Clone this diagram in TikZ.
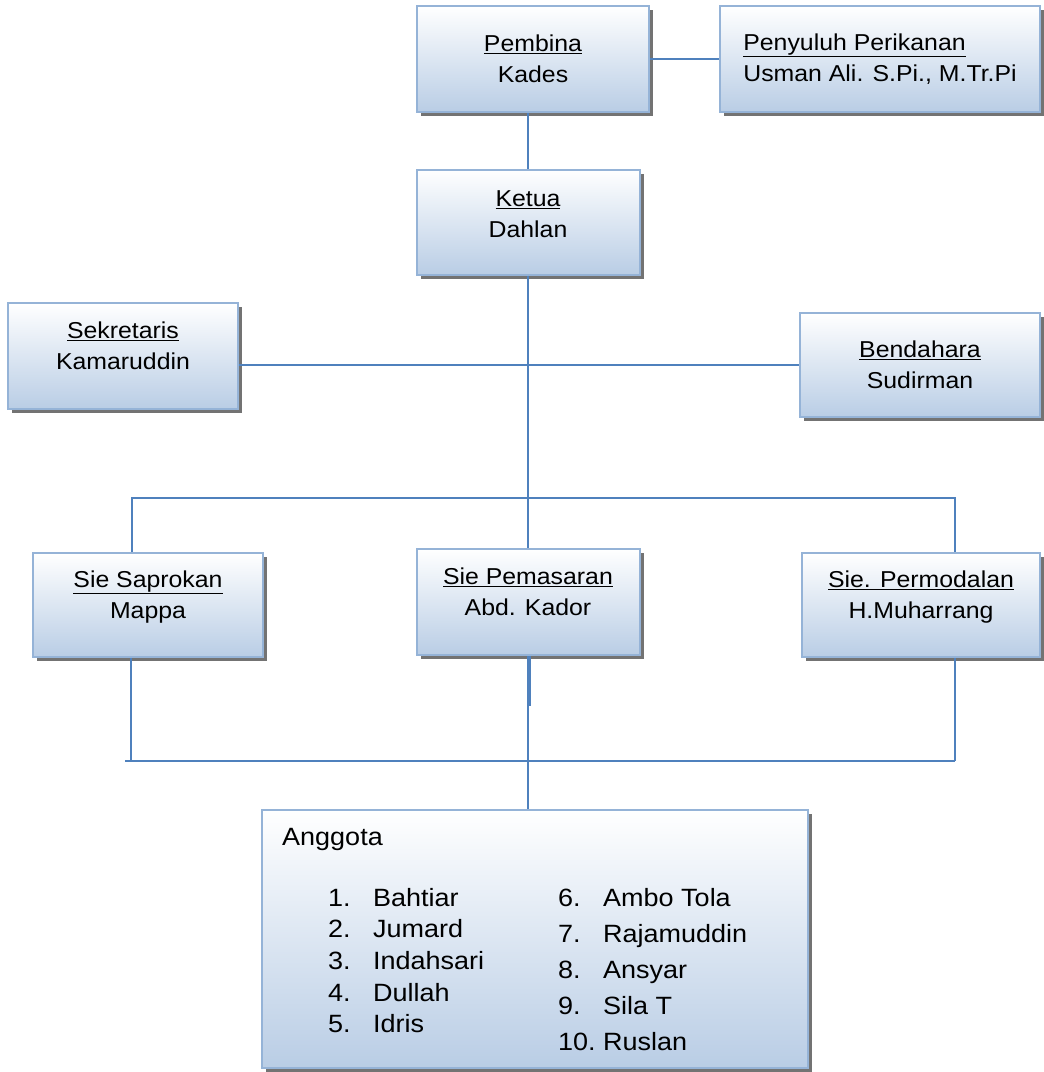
\documentclass[tikz,border=0pt]{standalone}
\usepackage{fontspec}
\setmainfont{Liberation Sans}[FakeStretch=1.08]
\usetikzlibrary{shadows}
\definecolor{boxblue}{RGB}{185,205,229}
\definecolor{boxedge}{RGB}{149,179,215}
\definecolor{linkblue}{RGB}{79,129,189}

\begin{document}
\begin{tikzpicture}[
  x=1pt, y=-1pt,
  orgbox/.style={rectangle, draw=boxedge, line width=2pt, top color=white, bottom color=boxblue, align=center, font=\fontsize{23}{31}\selectfont, drop shadow={shadow xshift=4pt, shadow yshift=-4pt, fill=black!55, opacity=1}},
  lift/.style={text depth=#1},
  listtext/.style={anchor=base west, inner sep=0pt},
  link/.style={draw=linkblue, line width=1.5pt}
]
\useasboundingbox (0,0) rectangle (1044,1072);

\node[orgbox, minimum width=232pt, minimum height=106pt] (pembina) at (533,59) {\underline{Pembina}\\Kades};
\node[orgbox, align=left, minimum width=320pt, minimum height=106pt] (penyuluh) at (880,59) {\underline{Penyuluh Perikanan}\\Usman Ali. S.Pi., M.Tr.Pi};
\node[orgbox, lift=16pt, minimum width=223pt, minimum height=105pt] (ketua) at (528,222) {\underline{Ketua}\\Dahlan};
\node[orgbox, lift=21pt, minimum width=230pt, minimum height=106pt] (sekretaris) at (123,356) {\underline{Sekretaris}\\Kamaruddin};
\node[orgbox, minimum width=240pt, minimum height=104pt] (bendahara) at (920,365) {\underline{Bendahara}\\Sudirman};
\node[orgbox, lift=21pt, minimum width=230pt, minimum height=104pt] (saprokan) at (148,605) {\underline{Sie Saprokan}\\Mappa};
\node[orgbox, lift=21pt, minimum width=223pt, minimum height=106pt] (pemasaran) at (528,602) {\underline{Sie Pemasaran}\\Abd. Kador};
\node[orgbox, lift=21pt, minimum width=238pt, minimum height=104pt] (permodalan) at (921,605) {\underline{Sie. Permodalan}\\H.Muharrang};
\node[orgbox, minimum width=546pt, minimum height=258pt] (anggota) at (535,939) {};

% isi kotak anggota
\node[listtext, font=\fontsize{25}{31}\selectfont] (anggotatitle) at (282,845) {Anggota};
\node[listtext, font=\fontsize{25}{31.7}\selectfont] (listleft) at (328,906) {\begin{tabular}[t]{@{}p{45pt}@{}l@{}}
1. & Bahtiar\\
2. & Jumard\\
3. & Indahsari\\
4. & Dullah\\
5. & Idris
\end{tabular}};
\node[listtext, font=\fontsize{25}{36.2}\selectfont] (listright) at (558,906) {\begin{tabular}[t]{@{}p{45pt}@{}l@{}}
6. & Ambo Tola\\
7. & Rajamuddin\\
8. & Ansyar\\
9. & Sila T\\
10. & Ruslan
\end{tabular}};

\coordinate (midrow) at (528,365);
\coordinate (upleft) at (132,498);
\coordinate (upright) at (955,498);
\coordinate (lowleft) at (131,761);
\coordinate (lowright) at (955,761);

\draw[link] (pembina) -- (penyuluh);
\draw[link] (ketua.north) -- (ketua.north |- pembina.south);
\draw[link] (ketua.south) -- (pemasaran.north);
\draw[link] (sekretaris.east |- midrow) -- (bendahara.west |- midrow);
\draw[link] (upleft |- saprokan.north) -- (upleft) -- (upright) -- (upright |- permodalan.north);
\draw[link] (lowleft |- saprokan.south) -- (lowleft);
\draw[link] (lowright |- permodalan.south) -- (lowright);
\draw[link] ([xshift=-6pt]lowleft) -- (lowright);
\draw[link] (pemasaran.south) -- (pemasaran.south |- anggota.north);
\draw[link, line width=2.5pt] ([xshift=1.5pt]pemasaran.south) -- ++(0,50);

\end{tikzpicture}
\end{document}
